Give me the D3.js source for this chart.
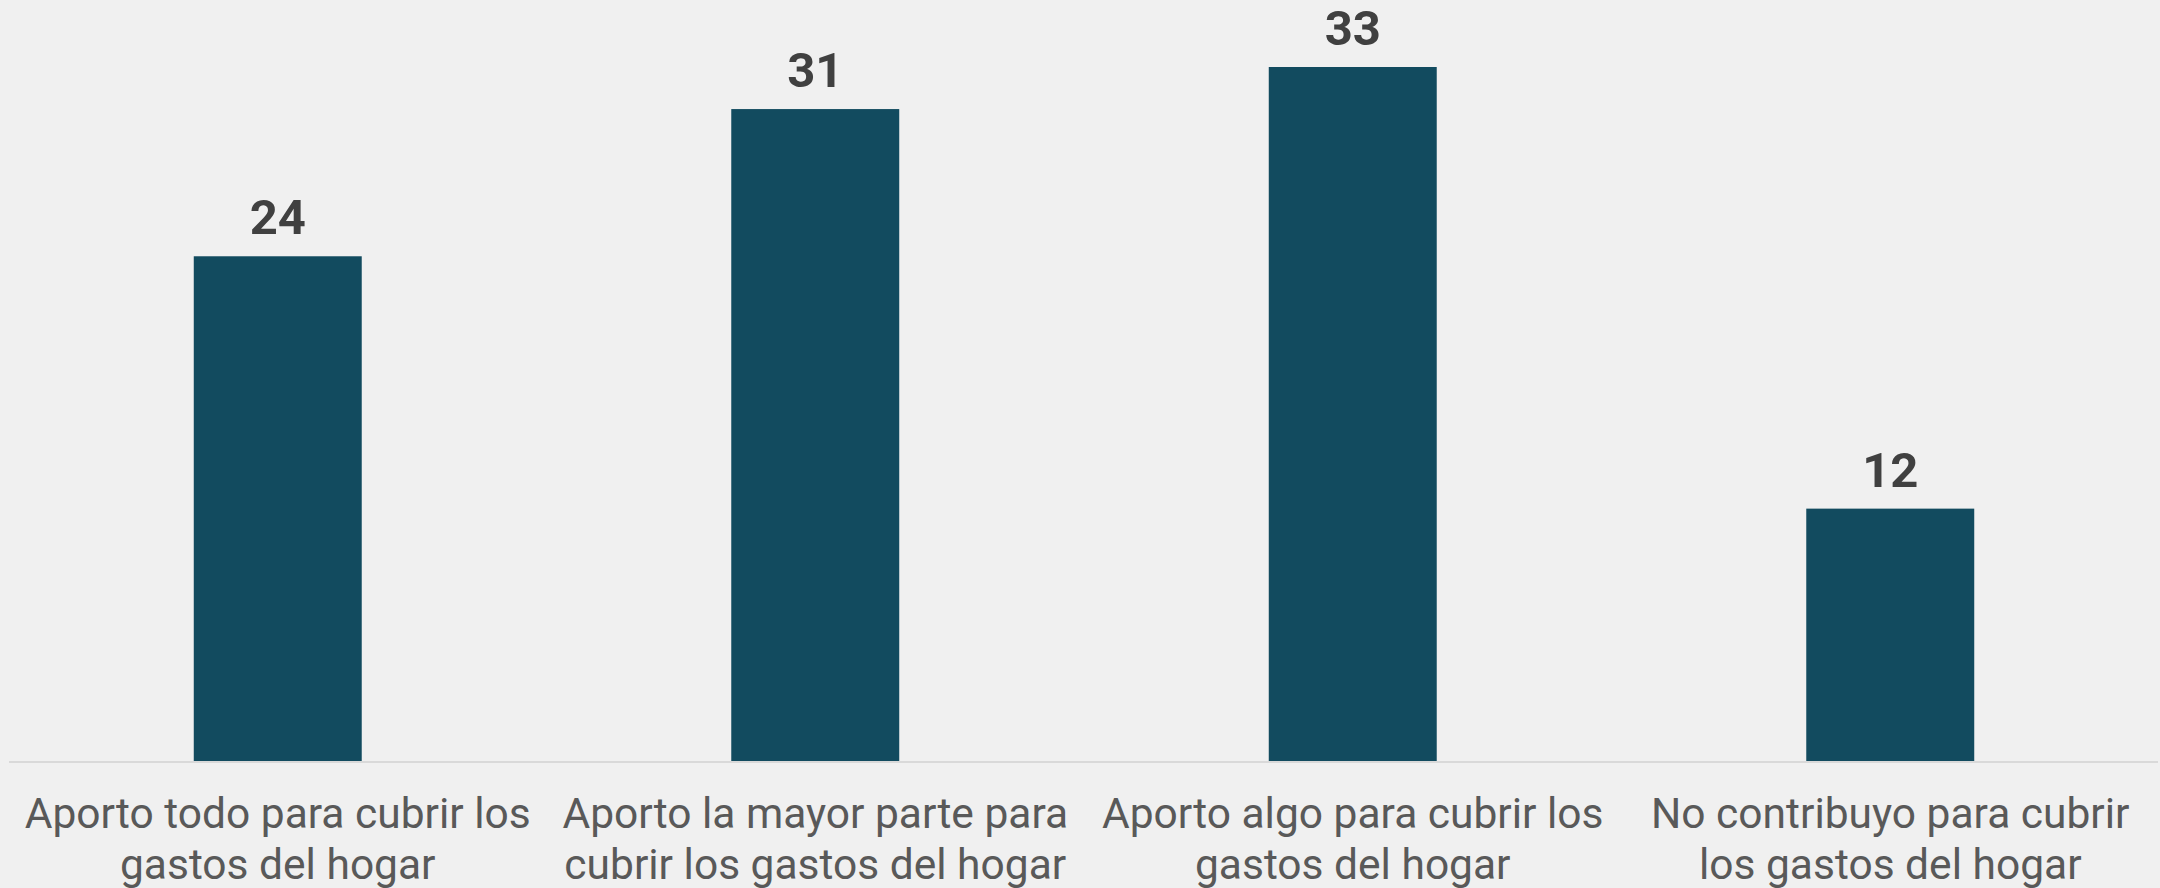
<!DOCTYPE html>
<html>
<head>
<meta charset="utf-8">
<script src="https://cdn.jsdelivr.net/npm/d3@7"></script>
<style>
  html, body { margin: 0; padding: 0; background: #f0f0f0; }
  svg { display: block; }
</style>
</head>
<body>
<div id="chart"></div>
<script>
const categories = [
  ['Aporto todo para cubrir los', 'gastos del hogar'],
  ['Aporto la mayor parte para', 'cubrir los gastos del hogar'],
  ['Aporto algo para cubrir los', 'gastos del hogar'],
  ['No contribuyo para cubrir', 'los gastos del hogar']
];
const values = [24, 31, 33, 12];

const width = 2160;
const height = 888;
const baseY = 761;

const svg = d3.select('#chart').append('svg')
  .attr('width', width)
  .attr('height', height);

svg.append('rect')
  .attr('width', width)
  .attr('height', height)
  .attr('fill', '#f0f0f0');

let x = d3.scaleBand()
  .domain(d3.range(values.length))
  .range([9, 2159])
  .paddingInner(0.6875)
  .paddingOuter(0.34375);

let y = d3.scaleLinear()
  .domain([0, 33])
  .range([baseY, 67]);

// bars
svg.selectAll('rect.bar')
  .data(values)
  .enter().append('rect')
  .attr('class', 'bar')
  .attr('x', (d, i) => x(i))
  .attr('y', d => y(d))
  .attr('width', x.bandwidth())
  .attr('height', d => y(0) - y(d))
  .attr('fill', '#124b5f');

// axis line
svg.append('line')
  .attr('x1', 9)
  .attr('x2', 2158)
  .attr('y1', baseY + 1)
  .attr('y2', baseY + 1)
  .attr('stroke', '#d9d9d9')
  .attr('stroke-width', 2);

// value labels
svg.selectAll('text.value')
  .data(values)
  .enter().append('text')
  .attr('class', 'value')
  .attr('x', (d, i) => x(i) + x.bandwidth() / 2)
  .attr('y', d => y(d) - 22)
  .attr('text-anchor', 'middle')
  .style('font-family', 'Roboto')
  .style('font-weight', 'bold')
  .style('font-size', '49px')
  .attr('fill', '#404040')
  .text(d => d);

// category labels
let cat = svg.selectAll('text.cat')
  .data(categories)
  .enter().append('text')
  .attr('class', 'cat')
  .attr('text-anchor', 'middle')
  .style('font-family', 'Roboto')
  .style('font-size', '42.5px')
  .attr('fill', '#595959');

cat.selectAll('tspan')
  .data((d, i) => d.map(line => ({line, i})))
  .enter().append('tspan')
  .attr('x', d => x(d.i) + x.bandwidth() / 2)
  .attr('y', (d, j) => 828 + j * 51)
  .text(d => d.line);
</script>
</body>
</html>
